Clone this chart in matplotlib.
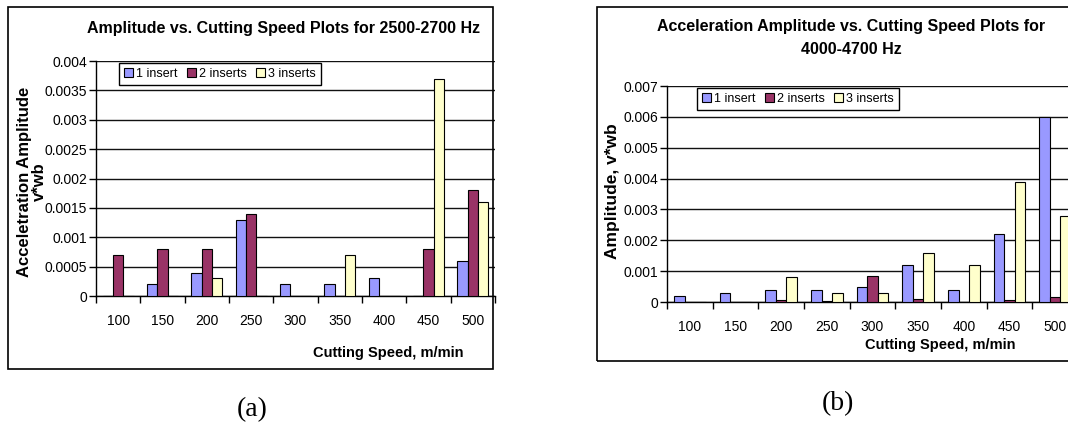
import numpy as np
import matplotlib
matplotlib.use("Agg")
import matplotlib.pyplot as plt
from matplotlib.patches import Rectangle

plt.rcParams['font.family'] = ['Liberation Sans', 'DejaVu Sans']

speeds = ['100', '150', '200', '250', '300', '350', '400', '450', '500']
series = ['1 insert', '2 inserts', '3 inserts']
colors = ['#9999FF', '#993366', '#FFFFCC']

# (a) 2500-2700 Hz
a_one = [0, 0.0002, 0.0004, 0.0013, 0.0002, 0.0002, 0.0003, 0, 0.0006]
a_two = [0.0007, 0.0008, 0.0008, 0.0014, 0, 0, 0, 0.0008, 0.0018]
a_three = [0, 0, 0.0003, 0, 0, 0.0007, 0, 0.0037, 0.0016]

# (b) 4000-4700 Hz
b_one = [0.0002, 0.0003, 0.0004, 0.0004, 0.0005, 0.0012, 0.0004, 0.0022, 0.006]
b_two = [0, 0, 0.00007, 0.00003, 0.00085, 0.0001, 0, 0.00007, 0.00015]
b_three = [0, 0, 0.0008, 0.0003, 0.0003, 0.0016, 0.0012, 0.0039, 0.0028]

W, H = 1068, 426
fig = plt.figure(figsize=(W / 100, H / 100), dpi=100)


def fx(px):
    return px / W


def fy(py):
    return 1 - py / H


def panel(rect, data, ymax, ystep, yfmt):
    ax = fig.add_axes(rect)
    x = np.arange(len(speeds))
    w = 0.233
    for i, (vals, c, lab) in enumerate(zip(data, colors, series)):
        ax.bar(x + (i - 1) * w, vals, w, color=c, edgecolor='black',
               linewidth=0.8, label=lab, zorder=3)
    ax.set_xlim(-0.5, len(speeds) - 0.5)
    ax.set_ylim(0, ymax)
    yt = np.arange(0, ymax + ystep / 2, ystep)
    ax.set_yticks(yt)
    ax.set_yticklabels(yfmt)
    ax.set_xticks(x)
    ax.set_xticklabels(speeds)
    ax.set_xticks(np.arange(-0.5, len(speeds)), minor=True)
    ax.tick_params(axis='x', which='major', length=0, pad=13, labelsize=10)
    ax.tick_params(axis='x', which='minor', length=5, width=1, direction='out')
    ax.tick_params(axis='y', length=5, width=1, pad=1.5, labelsize=10)
    ax.yaxis.grid(True, color='#111111', linewidth=1, zorder=0)
    ax.set_axisbelow(True)
    for s in ['top', 'right']:
        ax.spines[s].set_visible(False)
    for s in ['left', 'bottom']:
        ax.spines[s].set_linewidth(1)
    return ax


# panel (a)
ax_a = panel([fx(96), fy(296), fx(399), (296 - 61) / H],
             [a_one, a_two, a_three], 0.004, 0.0005,
             ['0', '0.0005', '0.001', '0.0015', '0.002', '0.0025', '0.003', '0.0035', '0.004'])
# panel (b)
ax_b = panel([fx(667), fy(302), fx(411), (302 - 86) / H],
             [b_one, b_two, b_three], 0.007, 0.001,
             ['0', '0.001', '0.002', '0.003', '0.004', '0.005', '0.006', '0.007'])

leg_kw = dict(ncol=3, loc='upper left', fontsize=9, frameon=True, fancybox=False,
              handlelength=0.7, handleheight=0.7, handletextpad=0.3,
              columnspacing=0.7, borderpad=0.4, borderaxespad=0)
la = ax_a.legend(bbox_to_anchor=(fx(119), fy(63)), bbox_transform=fig.transFigure, **leg_kw)
lb = ax_b.legend(bbox_to_anchor=(fx(697), fy(88)), bbox_transform=fig.transFigure, **leg_kw)
for lg in (la, lb):
    lg.get_frame().set_edgecolor('black')
    lg.get_frame().set_linewidth(1)
    lg.get_frame().set_alpha(1)

# outer boxes
fig.add_artist(Rectangle((fx(8), fy(369)), fx(485), 362 / H, transform=fig.transFigure,
                         fill=False, edgecolor='black', linewidth=1.2))
fig.add_artist(Rectangle((fx(597), fy(361)), fx(490), 354 / H, transform=fig.transFigure,
                         fill=False, edgecolor='black', linewidth=1.2))

# titles and labels
fig.text(fx(284), fy(28), 'Amplitude vs. Cutting Speed Plots for 2500-2700 Hz',
         ha='center', va='center', fontsize=11.5, fontweight='bold')
fig.text(fx(851), fy(38), 'Acceleration Amplitude vs. Cutting Speed Plots for\n4000-4700 Hz',
         ha='center', va='center', fontsize=11.5, fontweight='bold', linespacing=1.6)
fig.text(fx(388), fy(353), 'Cutting Speed, m/min', ha='center', va='center',
         fontsize=10.5, fontweight='bold')
fig.text(fx(940), fy(345), 'Cutting Speed, m/min', ha='center', va='center',
         fontsize=10.5, fontweight='bold')
fig.text(fx(32), fy(182), 'Acceletration Amplitude\nv*wb', rotation=90, ha='center', va='center',
         fontsize=12, fontweight='bold', linespacing=1.0)
fig.text(fx(613), fy(191), 'Amplitude, v*wb', rotation=90, ha='center', va='center',
         fontsize=12.5, fontweight='bold')

# captions
fig.text(fx(252), fy(410), '(a)', ha='center', va='center', fontsize=20,
         family=['Liberation Serif', 'DejaVu Serif'])
fig.text(fx(838), fy(404), '(b)', ha='center', va='center', fontsize=20,
         family=['Liberation Serif', 'DejaVu Serif'])

fig.savefig('out.png', dpi=100)
